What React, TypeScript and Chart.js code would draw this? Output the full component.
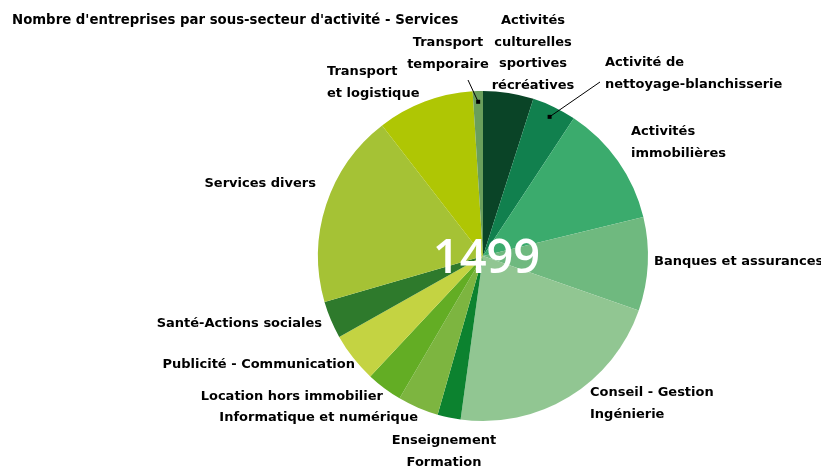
import React, { useEffect, useRef } from "react";
import { Chart, registerables } from "chart.js";

Chart.register(...registerables);

const TITLE = "Nombre d'entreprises par sous-secteur d'activité - Services";

const categories = [
  "Activités culturelles sportives récréatives",
  "Activité de nettoyage-blanchisserie",
  "Activités immobilières",
  "Banques et assurances",
  "Conseil - Gestion Ingénierie",
  "Enseignement Formation",
  "Informatique et numérique",
  "Location hors immobilier",
  "Publicité - Communication",
  "Santé-Actions sociales",
  "Services divers",
  "Transport et logistique",
  "Transport temporaire",
];

const labelLines = [
  ["Activités", "culturelles", "sportives", "récréatives"],
  ["Activité de", "nettoyage-blanchisserie"],
  ["Activités", "immobilières"],
  ["Banques et assurances"],
  ["Conseil - Gestion", "Ingénierie"],
  ["Enseignement", "Formation"],
  ["Informatique et numérique"],
  ["Location hors immobilier"],
  ["Publicité - Communication"],
  ["Santé-Actions sociales"],
  ["Services divers"],
  ["Transport", "et logistique"],
  ["Transport", "temporaire"],
];

const values = [74, 65, 179, 137, 327, 34, 60, 53, 73, 55, 285, 142, 15];

const colors = [
  "#0a4427",
  "#11804e",
  "#3bab6d",
  "#6fb97f",
  "#91c692",
  "#0c822f",
  "#7db540",
  "#63ad24",
  "#c4d342",
  "#2e7a2c",
  "#a5c235",
  "#afc604",
  "#6a9f5b",
];

// text layout (positions of annotation text, not data)
type LabelPos = { x: number; y: number; align: CanvasTextAlign; leaderFrom?: [number, number] };
const labelLayout: LabelPos[] = [
  { x: 533, y: 21, align: "center" },
  { x: 605, y: 63, align: "left", leaderFrom: [600, 82] },
  { x: 631, y: 132, align: "left" },
  { x: 654, y: 262, align: "left" },
  { x: 590, y: 393, align: "left" },
  { x: 444, y: 441, align: "center" },
  { x: 418, y: 418, align: "right" },
  { x: 383, y: 397, align: "right" },
  { x: 355, y: 365, align: "right" },
  { x: 322, y: 324, align: "right" },
  { x: 316, y: 184, align: "right" },
  { x: 327, y: 72, align: "left" },
  { x: 448, y: 43, align: "center", leaderFrom: [468, 80] },
];

const LABEL_FONT = "bold 13px 'DejaVu Sans'";
const LINE_H = 21.5;

const annotations = {
  id: "annotations",
  afterDraw(chart: any) {
    const ctx = chart.ctx as CanvasRenderingContext2D;
    const meta = chart.getDatasetMeta(0);
    ctx.save();
    // title
    ctx.fillStyle = "#000";
    ctx.font = "bold 13.3px 'DejaVu Sans'";
    ctx.textAlign = "left";
    ctx.textBaseline = "middle";
    ctx.fillText(TITLE, 12, 21);

    // labels
    ctx.font = LABEL_FONT;
    labelLines.forEach((lines, i) => {
      const pos = labelLayout[i];
      ctx.textAlign = pos.align;
      lines.forEach((ln, j) => ctx.fillText(ln, pos.x, pos.y + j * LINE_H));
      if (pos.leaderFrom) {
        const arc = meta.data[i];
        const { x, y, startAngle, endAngle, outerRadius } = arc.getProps(
          ["x", "y", "startAngle", "endAngle", "outerRadius"],
          true
        );
        const mid = (startAngle + endAngle) / 2;
        const ex = x + Math.cos(mid) * outerRadius * 0.935;
        const ey = y + Math.sin(mid) * outerRadius * 0.935;
        ctx.strokeStyle = "#000";
        ctx.lineWidth = 1;
        ctx.beginPath();
        ctx.moveTo(pos.leaderFrom[0], pos.leaderFrom[1]);
        ctx.lineTo(ex, ey);
        ctx.stroke();
        ctx.fillRect(ex - 2, ey - 2, 4, 4);
      }
    });

    // center total
    const a0 = meta.data[0];
    const total = values.reduce((s, v) => s + v, 0);
    ctx.fillStyle = "#ffffff";
    ctx.font = "600 47px 'Open Sans'";
    ctx.textAlign = "center";
    ctx.textBaseline = "middle";
    ctx.fillText(String(total), a0.x + 3.5, a0.y + 4);
    ctx.restore();
  },
};

export default function App() {
  const ref = useRef<HTMLCanvasElement | null>(null);
  useEffect(() => {
    if (!ref.current) return;
    const chart = new Chart(ref.current, {
      type: "pie",
      data: {
        labels: categories,
        datasets: [
          {
            data: values,
            backgroundColor: colors,
            borderWidth: 0,
          },
        ],
      },
      options: {
        responsive: false,
        animation: false,
        layout: { padding: { left: 318, right: 173, top: 91, bottom: 49 } },
        plugins: {
          legend: { display: false },
          title: { display: false },
          tooltip: { enabled: false },
        },
      },
      plugins: [annotations],
    });
    return () => chart.destroy();
  }, []);
  return (
    <canvas
      ref={ref}
      width={821}
      height={470}
      style={{ position: "absolute", left: 0, top: 0, width: 821, height: 470, background: "#fff" }}
    />
  );
}
